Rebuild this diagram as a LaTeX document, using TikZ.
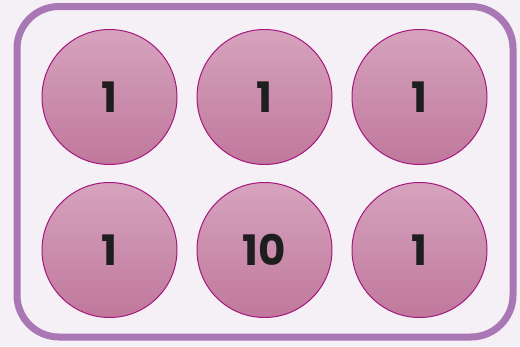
\documentclass[tikz,border=0pt]{standalone}
\usepackage{fontspec}
\setmainfont{Poppins}
\usepackage{xcolor}
\usepackage{tikz}
\usetikzlibrary{positioning}

\definecolor{trayline}{HTML}{A877B4}
\definecolor{trayfill}{HTML}{F5EFF6}
\definecolor{cuptop}{HTML}{D6A3BE}
\definecolor{cupbottom}{HTML}{C0789C}
\definecolor{cupline}{HTML}{A6177E}
\definecolor{numcol}{HTML}{1E1E1E}

\tikzset{
  cup/.style={circle, draw=cupline, line width=1pt, minimum size=135pt, inner sep=0pt,
    top color=cuptop, bottom color=cupbottom, text=numcol, font=\fontsize{42}{42}\selectfont\bfseries},
}

\begin{document}
\begin{tikzpicture}[x=1pt,y=-1pt]
		\fill[trayfill] (0,0) rectangle (520,346);
		\useasboundingbox (0,0) rectangle (520,346);
		\draw[trayline, line width=7pt, rounded corners=42pt, fill=trayfill] (17,6.5) rectangle (513,337);

		% top row
		\node[cup] (c1) at (109.5,97) {1};
		\node[cup] (c2) at (264.5,97) {1};
		\node[cup] (c3) at (419.5,97) {1};
		% bottom row
		\node[cup] (c4) at (109.5,250) {1};
		\node[cup] (c5) at (264.5,250) {10};
		\node[cup] (c6) at (419.5,250) {1};
	\end{tikzpicture}
\end{document}
